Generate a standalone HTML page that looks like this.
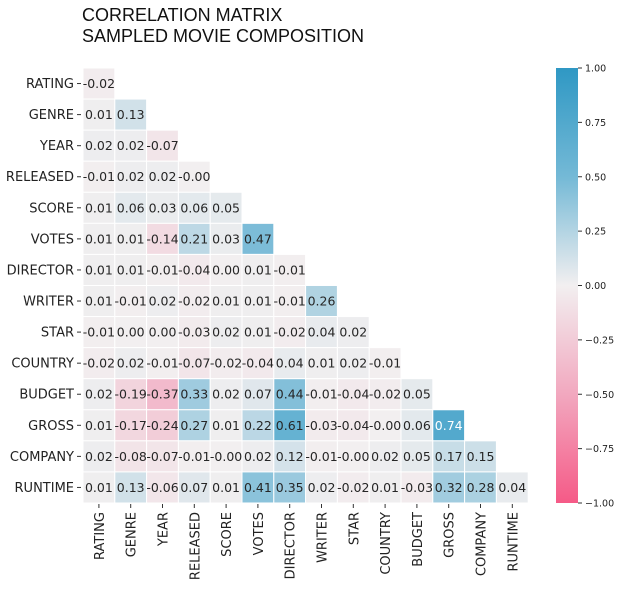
<!DOCTYPE html>
<html><head><meta charset="utf-8"><style>
body{margin:0;background:#fff;width:622px;height:585px;overflow:hidden;font-family:"DejaVu Sans","Liberation Sans",sans-serif}
</style></head><body>
<svg id="chart" width="622" height="585" xmlns="http://www.w3.org/2000/svg">
<defs><linearGradient id="cbg" x1="0" y1="0" x2="0" y2="1">
<stop offset="0" stop-color="#2f98c4"/><stop offset="0.25" stop-color="#74b9d6"/><stop offset="0.5" stop-color="#f2eff0"/><stop offset="0.75" stop-color="#f2a8bf"/><stop offset="1" stop-color="#f55a87"/>
</linearGradient></defs>
<text x="82" y="21" font-size="18" font-family="Liberation Sans" fill="#111">CORRELATION MATRIX</text>
<text x="82" y="42" font-size="18" font-family="Liberation Sans" fill="#111">SAMPLED MOVIE COMPOSITION</text>
<g id="cells"></g>
<rect x="556" y="68" width="22" height="435" fill="url(#cbg)"/>
<g id="cbticks"></g>
</svg>
<script>
const labels=["RATING","GENRE","YEAR","RELEASED","SCORE","VOTES","DIRECTOR","WRITER","STAR","COUNTRY","BUDGET","GROSS","COMPANY","RUNTIME"];
const rowValues=[
[-0.02],
[0.01,0.13],
[0.02,0.02,-0.07],
[-0.01,0.02,0.02,-0.00],
[0.01,0.06,0.03,0.06,0.05],
[0.01,0.01,-0.14,0.21,0.03,0.47],
[0.01,0.01,-0.01,-0.04,0.00,0.01,-0.01],
[0.01,-0.01,0.02,-0.02,0.01,0.01,-0.01,0.26],
[-0.01,0.00,0.00,-0.03,0.02,0.01,-0.02,0.04,0.02],
[-0.02,0.02,-0.01,-0.07,-0.02,-0.04,0.04,0.01,0.02,-0.01],
[0.02,-0.19,-0.37,0.33,0.02,0.07,0.44,-0.01,-0.04,-0.02,0.05],
[0.01,-0.17,-0.24,0.27,0.01,0.22,0.61,-0.03,-0.04,-0.00,0.06,0.74],
[0.02,-0.08,-0.07,-0.01,-0.00,0.02,0.12,-0.01,-0.00,0.02,0.05,0.17,0.15],
[0.01,0.13,-0.06,0.07,0.01,0.41,0.35,0.02,-0.02,0.01,-0.03,0.32,0.28,0.04]];
const cbTicks=[1,0.75,0.5,0.25,0,-0.25,-0.5,-0.75,-1];
const NS="http://www.w3.org/2000/svg";
const x0=83,y0=68,cw=31.8,ch=31.07,cbTop=68,cbH=435;
const stops=[[1,[47,152,196]],[0.5,[116,185,214]],[0,[242,239,240]],[-0.5,[242,168,191]],[-1,[245,90,135]]];
function color(v){for(let i=0;i<stops.length-1;i++){const a=stops[i],b=stops[i+1];if(v<=a[0]&&v>=b[0]){const t=(a[0]-v)/(a[0]-b[0]);return "rgb("+a[1].map((c,k)=>Math.round(c+(b[1][k]-c)*t)).join(",")+")";}}return "#fff";}
function fmt(v){const s=Math.abs(v).toFixed(2);return (v<0||Object.is(v,-0))?"-"+s:s;}
function mk(tag,at,txt){const e=document.createElementNS(NS,tag);for(const k in at)e.setAttribute(k,at[k]);if(txt!==undefined)e.textContent=txt;return e;}
const g=document.getElementById("cells");
const xs=i=>x0+i*cw, ys=j=>y0+j*ch, cy=v=>cbTop+(1-v)/2*cbH;
rowValues.forEach((row,r)=>{
 const yl=mk("text",{x:74,y:ys(r)+ch/2+4.5,"font-size":13,"text-anchor":"end",fill:"#222"},labels[r]);
 
 
 g.appendChild(yl);
 g.appendChild(mk("line",{x1:77,x2:81,y1:ys(r)+ch/2,y2:ys(r)+ch/2,stroke:"#333"}));
 row.forEach((v,c)=>{
  const rc=mk("rect",{x:xs(c),y:ys(r),width:cw,height:ch,fill:color(v),stroke:"#fff","stroke-width":1});
  
  
  g.appendChild(rc);
  const t=mk("text",{x:xs(c)+cw/2,y:ys(r)+ch/2+4.5,"font-size":12.5,"text-anchor":"middle",fill:Math.abs(v)>0.7?"#fff":"#262626"},fmt(v));
  
  
  g.appendChild(t);
 });
});
labels.forEach((l,c)=>{
 const x=xs(c)+cw/2;
 g.appendChild(mk("line",{x1:x,x2:x,y1:504,y2:508,stroke:"#333"}));
 const t=mk("text",{x:x+5,y:512,"font-size":13,"text-anchor":"end",fill:"#222",transform:"rotate(-90 "+(x+5)+" 512)"},l);
 
 
 g.appendChild(t);
});
const cb=document.getElementById("cbticks");
cbTicks.forEach(v=>{
 const y=cy(v);
 cb.appendChild(mk("line",{x1:578,x2:582,y1:y,y2:y,stroke:"#333"}));
 const t=mk("text",{x:585,y:y+3.5,"font-size":9.5,fill:"#222"},(v<0?"\u2212":"")+Math.abs(v).toFixed(2));
 
 
 cb.appendChild(t);
});
</script>
</body></html>
